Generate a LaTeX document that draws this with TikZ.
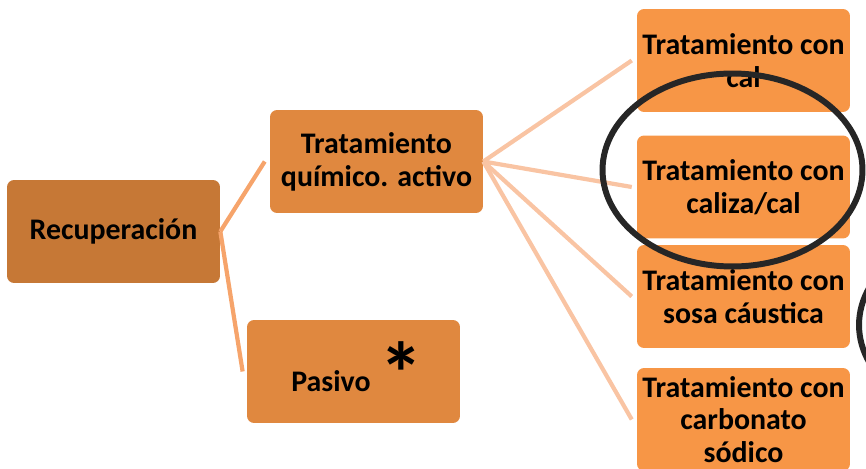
\documentclass[tikz,border=0pt]{standalone}
\usepackage{fontspec}
\setmainfont{Carlito}
\definecolor{rootfill}{HTML}{C67836}
\definecolor{midfill}{HTML}{E0883F}
\definecolor{leaffill}{HTML}{F79646}
\definecolor{linkdark}{HTML}{F6A46B}
\definecolor{linklight}{HTML}{F9C4A3}
\definecolor{ringcol}{HTML}{262626}
\begin{document}
\begin{tikzpicture}[
          x=0.02cm, y=-0.02cm,
          every node/.style={font=\fontsize{17}{18.7}\selectfont\bfseries, align=center},
          box/.style={rounded corners=4pt, minimum width=4.26cm, minimum height=2.06cm, inner sep=0pt},
          root/.style={box, fill=rootfill},
          mid/.style={box, fill=midfill},
          leaf/.style={box, fill=leaffill},
          link/.style={line width=2.4pt},
          ring/.style={draw=ringcol, line width=3.4pt}
        ]
        \clip (0,0) rectangle (866,469);
        \path[use as bounding box] (0,0) rectangle (866,469);
        \coordinate (rc) at (113.5,231.5);
        \coordinate (qc) at (376.5,161.5);
        \coordinate (pc) at (353.5,371.5);

        \node[root] (rec) at (rc) {Recuperación};
        \node[mid] (quim) at (qc) {Tratamiento\\químico. activo};
        \node[mid] (pas) at (pc) {};
        \node (paslbl) at (331,381) {Pasivo};
        \node[font=\fontsize{50}{50}\selectfont\bfseries] (ast) at (401,373) {*};

        \node[leaf] (cal) at (743.5,60.5) {Tratamiento con\\cal};
        \node[leaf] (caliza) at (743.5,187) {Tratamiento con\\caliza/cal};
        \node[leaf] (sosa) at (743.5,296.5) {Tratamiento con\\sosa cáustica};
        \node[leaf] (carb) at (743.5,419.5) {Tratamiento con\\carbonato\\sódico};

        \draw[link, draw=linkdark] (rec.east) -- ([xshift=-2.8pt]quim.west);
        \draw[link, draw=linkdark] (rec.east) -- ([xshift=-2.3pt]pas.west);
        \foreach \leafname in {cal, caliza, sosa, carb}
          \draw[link, draw=linklight] (quim.east) -- ([xshift=-2.8pt]\leafname.west);

        \draw[ring] (732.5,170) ellipse [x radius=2.6cm, y radius=1.93cm];
        \draw[ring] (992,325) ellipse [x radius=2.66cm, y radius=1.94cm];
        \end{tikzpicture}
\end{document}
